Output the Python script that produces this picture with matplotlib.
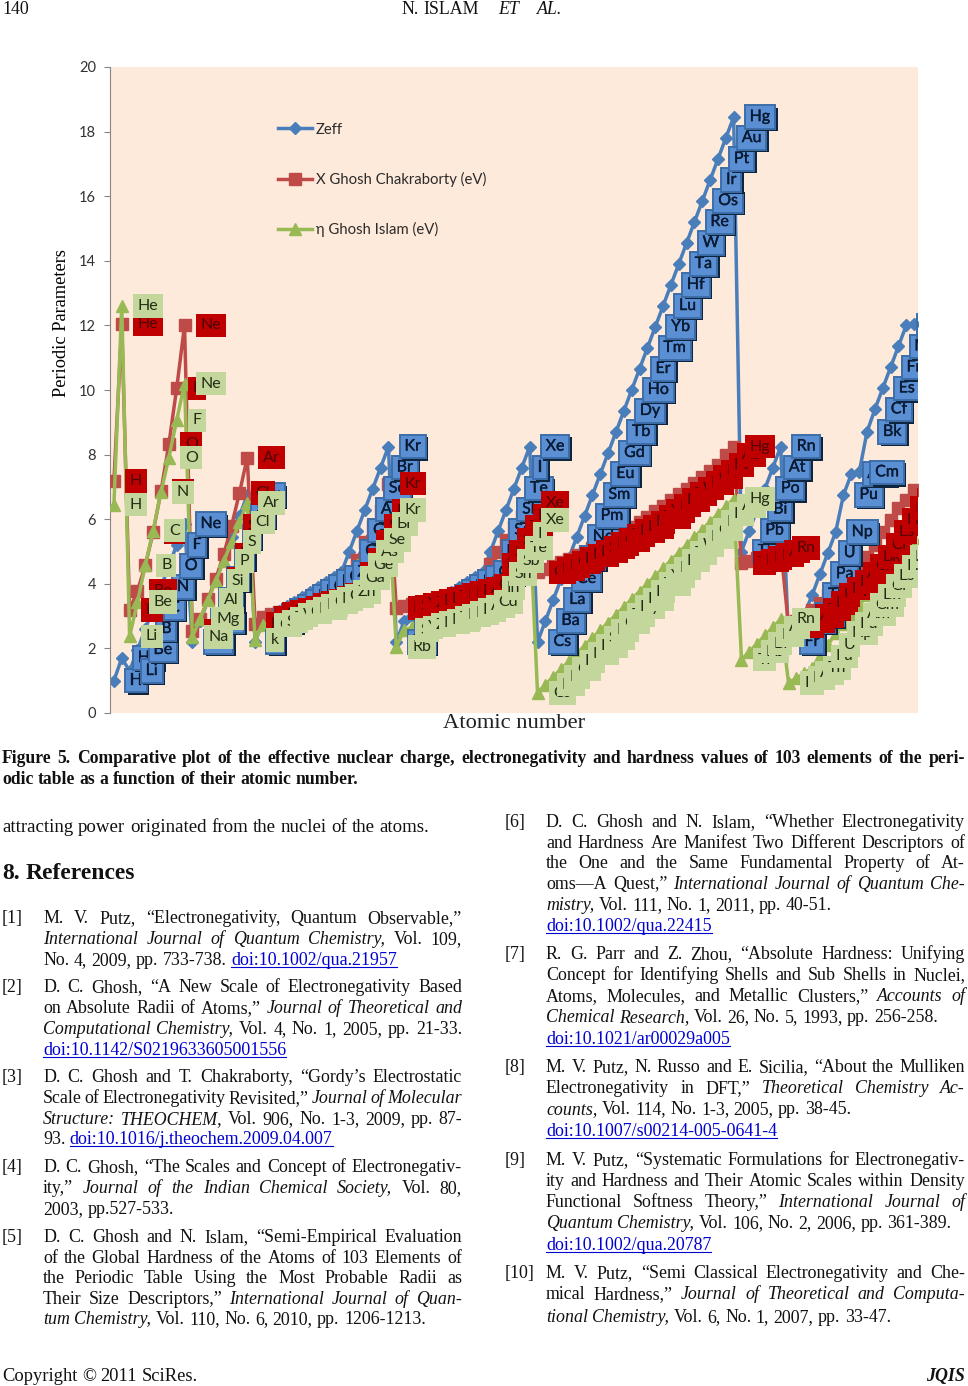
import numpy as np
import matplotlib
matplotlib.use('Agg')
import matplotlib.pyplot as plt
import matplotlib.patheffects as pe
from matplotlib.lines import Line2D

# data, one value per element (Z = 1..103)
symbols = ['H', 'He', 'Li', 'Be', 'B', 'C', 'N', 'O', 'F', 'Ne',
           'Na', 'Mg', 'Al', 'Si', 'P', 'S', 'Cl', 'Ar',
           'k', 'Ca', 'Sc', 'Ti', 'V', 'Cr', 'Mn', 'Fe', 'Co', 'Ni', 'Cu', 'Zn',
           'Ga', 'Ge', 'As', 'Se', 'Br', 'Kr',
           'Rb', 'Sr', 'Y', 'Zr', 'Nb', 'Mo', 'Tc', 'Ru', 'Rh', 'Pd', 'Ag', 'Cd',
           'In', 'Sn', 'Sb', 'Te', 'I', 'Xe',
           'Cs', 'Ba', 'La', 'Ce', 'Pr', 'Nd', 'Pm', 'Sm', 'Eu', 'Gd', 'Tb', 'Dy',
           'Ho', 'Er', 'Tm', 'Yb', 'Lu', 'Hf', 'Ta', 'W', 'Re', 'Os', 'Ir', 'Pt', 'Au', 'Hg',
           'Tl', 'Pb', 'Bi', 'Po', 'At', 'Rn',
           'Fr', 'Ra', 'Ac', 'Th', 'Pa', 'U', 'Np', 'Pu', 'Am', 'Cm', 'Bk', 'Cf', 'Es', 'Fm',
           'Md', 'No', 'Lr']

zeff = [1.0, 1.7,
        1.3, 1.95, 2.6, 3.25, 3.9, 4.55, 5.2, 5.85,
        2.2, 2.85, 3.5, 4.15, 4.8, 5.45, 6.1, 6.75,
        2.2, 2.85, 3.0, 3.15, 3.3, 3.45, 3.6, 3.75, 3.9, 4.05, 4.2, 4.35,
        5.0, 5.65, 6.3, 6.95, 7.6, 8.25,
        2.2, 2.85, 3.0, 3.15, 3.3, 3.45, 3.6, 3.75, 3.9, 4.05, 4.2, 4.35,
        5.0, 5.65, 6.3, 6.95, 7.6, 8.25,
        2.2, 2.85, 3.5, 4.15, 4.8, 5.45, 6.1, 6.75, 7.4, 8.05, 8.7, 9.35, 10.0,
        10.65, 11.3, 11.95, 12.6, 13.25, 13.9, 14.55, 15.2, 15.85, 16.5, 17.15, 17.8, 18.45,
        5.0, 5.65, 6.3, 6.95, 7.6, 8.25,
        2.2, 2.85, 3.05, 3.65, 4.3, 4.95, 5.6, 6.75, 7.4, 7.45, 8.7, 9.4, 10.05, 10.7,
        11.35, 12.0, 12.05]

x_ghosh = [7.18, 12.03,
           3.19, 3.78, 4.57, 5.6, 6.87, 8.32, 10.05, 12.0,
           2.55, 2.92, 3.52, 4.16, 4.91, 5.8, 6.81, 7.91,
           2.77, 2.96, 3.08, 3.14, 3.2, 3.27, 3.34, 3.41, 3.48, 3.56, 3.65, 3.75,
           4.3, 4.75, 5.3, 5.8, 6.25, 7.1,
           3.25, 3.3, 3.36, 3.42, 3.48, 3.54, 3.6, 3.66, 3.72, 3.78, 3.85, 3.95,
           4.6, 5.0, 5.35, 5.75, 6.1, 6.5,
           4.35, 4.45, 4.55, 4.66, 4.77, 4.88, 5.0, 5.12, 5.24, 5.36, 5.5, 5.63, 5.76, 5.9,
           6.07, 6.25, 6.42, 6.6, 6.78, 6.95, 7.12, 7.3, 7.48, 7.68, 7.98, 8.25,
           4.65, 4.72, 4.8, 4.9, 5.0, 5.1,
           2.7, 2.85, 3.0, 3.2, 3.4, 3.65, 3.85, 4.05, 4.3, 4.55, 4.83, 5.2, 5.6, 5.97,
           6.35, 6.6, 6.9]

eta_ghosh = [6.45, 12.6,
             2.37, 3.44, 4.57, 5.65, 6.83, 7.91, 9.06, 10.2,
             2.36, 2.92, 3.5, 4.1, 4.7, 5.3, 5.9, 6.5,
             2.26, 2.72, 2.83, 2.93, 3.03, 3.13, 3.23, 3.33, 3.43, 3.53, 3.63, 3.74,
             4.18, 4.58, 5.0, 5.36, 5.85, 6.28,
             2.04, 2.57, 2.65, 2.73, 2.8, 2.87, 2.95, 3.02, 3.1, 3.18, 3.3, 3.44,
             3.87, 4.3, 4.7, 5.1, 5.54, 5.97,
             0.62, 0.88, 1.12, 1.36, 1.6, 1.84, 2.08, 2.32, 2.56, 2.8, 3.04, 3.28, 3.52,
             3.76, 4.0, 4.24, 4.48, 4.72, 4.96, 5.2, 5.44, 5.68, 5.92, 6.16, 6.4, 6.62,
             1.65, 1.9, 2.15, 2.4, 2.65, 2.9,
             0.93, 1.08, 1.23, 1.39, 1.75, 2.1, 2.47, 2.76, 3.05, 3.34, 3.64, 3.94, 4.24, 4.54,
             4.84, 5.13, 5.42]

series_names = ['Zeff', 'X Ghosh Chakraborty (eV)', 'η Ghosh Islam (eV)']
y_ticks = [0, 2, 4, 6, 8, 10, 12, 14, 16, 18, 20]

W, H = 968, 1386
z = np.arange(1, 104)

fig = plt.figure(figsize=(W / 100, H / 100), dpi=100, facecolor='white')
ax = fig.add_axes([110 / W, 1 - 713 / H, 808 / W, 646 / H], facecolor='#fdeadb')
ax.set_xlim(0.5, 103.5)
ax.set_ylim(0, 20)
ax.set_xticks([])
ax.set_yticks(y_ticks)
ax.tick_params(axis='y', length=4, color='#868686', labelcolor='#333333', pad=6)
for lab in ax.get_yticklabels():
    lab.set_fontfamily('Lato')
    lab.set_fontsize(10.5)
for side in ['top', 'right', 'bottom']:
    ax.spines[side].set_visible(False)
ax.spines['left'].set_color('#868686')

ax.plot(z, zeff, color='#4a7ebb', lw=2.5, marker='D', ms=6.5, zorder=2, label=series_names[0])
ax.plot(z, x_ghosh, color='#be4b48', lw=2.5, marker='s', ms=8.5, zorder=3, label=series_names[1])
ax.plot(z, eta_ghosh, color='#98b954', lw=2.5, marker='^', ms=9, zorder=4, label=series_names[2])


def add_labels(values, face, edge, text_color, order, shadow=False):
    for i, sym in enumerate(symbols):
        t = ax.annotate(sym, (z[i], values[i]), xytext=(11.5, 0), textcoords='offset points',
                        ha='left', va='center', fontsize=11.5, family='Lato', color=text_color,
                        zorder=order + i * 0.001, clip_on=True,
                        bbox=dict(boxstyle='square,pad=0.3', fc=face, ec=edge, lw=1.4 if shadow else 0))
        if shadow:
            t.set_path_effects([pe.withStroke(linewidth=0.25, foreground=text_color)])
            t.get_bbox_patch().set_path_effects([
                pe.withSimplePatchShadow(offset=(1.8, -1.8), shadow_rgbFace='#0f243e', alpha=1)])


add_labels(zeff, '#5b8fd3', '#3d6ea8', '#0a1a33', 5, shadow=True)
add_labels(x_ghosh, '#c00000', '#c00000', '#4d0505', 6)
add_labels(eta_ghosh, '#c3d69b', '#c3d69b', '#222b14', 7)

leg = ax.legend(loc='upper left', bbox_to_anchor=(0.208, 0.914), frameon=False,
                prop={'family': ['Lato', 'DejaVu Sans'], 'size': 10.7}, labelspacing=2.38,
                handlelength=2.3, handletextpad=0.25, borderpad=0, borderaxespad=0)
leg.set_zorder(20)
for txt in leg.get_texts():
    txt.set_color('#2b2b2b')

fig.text(61 / W, 1 - 323 / H, 'Periodic Parameters', rotation=90, ha='center', va='center',
         family='Liberation Serif', fontsize=13.2)
fig.text(514 / W, 1 - 724 / H, 'Atomic number', ha='center', va='center',
         family='Liberation Serif', fontsize=16.2, color='#222222')

renderer = fig.canvas.get_renderer()


# one printed line: '*' toggles italic, '~' toggles a blue underlined link
def put_line(x0, y, s, x1=None, size=12.9, weight='normal'):
    words = []
    italic = link = False
    for raw in s.split(' '):
        it0, li0 = italic, link
        if raw.startswith('*'):
            it0 = not it0
        if raw.startswith('~'):
            li0 = not li0
        italic ^= raw.count('*') % 2 == 1
        link ^= raw.count('~') % 2 == 1
        word = raw.replace('*', '').replace('~', '')
        t = fig.text(x0 / W, 1 - y / H, word, family='Liberation Serif', fontsize=size,
                     fontweight=weight, fontstyle='italic' if it0 else 'normal',
                     color='#0000d0' if li0 else '#111111', va='baseline', ha='left')
        words.append((t, t.get_window_extent(renderer).width, li0))
    gap = size * 100 / 72 * 0.25
    if x1 is not None and len(words) > 1:
        gap = (x1 - x0 - sum(w[1] for w in words)) / (len(words) - 1)
    x = x0
    for t, width, li in words:
        t.set_x(x / W)
        if li:
            fig.add_artist(Line2D([x / W, (x + width) / W], [1 - (y + 2) / H] * 2,
                                  color='#0000d0', lw=0.8))
        x += width + gap


put_line(2, 14, '140', size=12.9)
put_line(402, 14, 'N. ISLAM', size=12.9)
put_line(498, 14, '*ET', size=12.9)
put_line(537, 14, '*AL.', size=12.9)

put_line(2, 763, 'Figure 5. Comparative plot of the effective nuclear charge, electronegativity and hardness values of 103 elements of the peri-',
         x1=965, size=12.7, weight='bold')
put_line(2, 784, 'odic table as a function of their atomic number.', size=12.7, weight='bold')
put_line(2, 832, 'attracting power originated from the nuclei of the atoms.', size=13.6)
put_line(2, 879, '8. References', size=17, weight='bold')

LX0, LX1, LN = 43, 462, 2
RX0, RX1, RN = 546, 965, 505

left_refs = [
    (923, '[1]', 'M. V. Putz, “Electronegativity, Quantum Observable,”', True),
    (944, '', '*International Journal of Quantum Chemistry*, Vol. 109,', True),
    (965, '', 'No. 4, 2009, pp. 733-738. ~doi:10.1002/qua.21957~', False),
    (992, '[2]', 'D. C. Ghosh, “A New Scale of Electronegativity Based', True),
    (1013, '', 'on Absolute Radii of Atoms,” *Journal of Theoretical and*', True),
    (1034, '', '*Computational Chemistry*, Vol. 4, No. 1, 2005, pp. 21-33.', True),
    (1055, '', '~doi:10.1142/S0219633605001556~', False),
    (1082, '[3]', 'D. C. Ghosh and T. Chakraborty, “Gordy’s Electrostatic', True),
    (1103, '', 'Scale of Electronegativity Revisited,” *Journal of Molecular*', True),
    (1124, '', '*Structure*: *THEOCHEM*, Vol. 906, No. 1-3, 2009, pp. 87-', True),
    (1144, '', '93. ~doi:10.1016/j.theochem.2009.04.007~', False),
    (1172, '[4]', 'D. C. Ghosh, “The Scales and Concept of Electronegativ-', True),
    (1193, '', 'ity,” *Journal of the Indian Chemical Society*, Vol. 80,', True),
    (1214, '', '2003, pp.527-533.', False),
    (1242, '[5]', 'D. C. Ghosh and N. Islam, “Semi-Empirical Evaluation', True),
    (1263, '', 'of the Global Hardness of the Atoms of 103 Elements of', True),
    (1283, '', 'the Periodic Table Using the Most Probable Radii as', True),
    (1304, '', 'Their Size Descriptors,” *International Journal of Quan-*', True),
    (1324, '', '*tum Chemistry*, Vol. 110, No. 6, 2010, pp. 1206-1213.', False),
]
right_refs = [
    (827, '[6]', 'D. C. Ghosh and N. Islam, “Whether Electronegativity', True),
    (848, '', 'and Hardness Are Manifest Two Different Descriptors of', True),
    (868, '', 'the One and the Same Fundamental Property of At-', True),
    (889, '', 'oms—A Quest,” *International Journal of Quantum Che-*', True),
    (910, '', '*mistry*, Vol. 111, No. 1, 2011, pp. 40-51.', False),
    (931, '', '~doi:10.1002/qua.22415~', False),
    (959, '[7]', 'R. G. Parr and Z. Zhou, “Absolute Hardness: Unifying', True),
    (980, '', 'Concept for Identifying Shells and Sub Shells in Nuclei,', True),
    (1001, '', 'Atoms, Molecules, and Metallic Clusters,” *Accounts of*', True),
    (1022, '', '*Chemical Research*, Vol. 26, No. 5, 1993, pp. 256-258.', False),
    (1044, '', '~doi:10.1021/ar00029a005~', False),
    (1072, '[8]', 'M. V. Putz, N. Russo and E. Sicilia, “About the Mulliken', True),
    (1093, '', 'Electronegativity in DFT,” *Theoretical Chemistry Ac-*', True),
    (1114, '', '*counts*, Vol. 114, No. 1-3, 2005, pp. 38-45.', False),
    (1136, '', '~doi:10.1007/s00214-005-0641-4~', False),
    (1165, '[9]', 'M. V. Putz, “Systematic Formulations for Electronegativ-', True),
    (1186, '', 'ity and Hardness and Their Atomic Scales within Density', True),
    (1207, '', 'Functional Softness Theory,” *International Journal of*', True),
    (1228, '', '*Quantum Chemistry*, Vol. 106, No. 2, 2006, pp. 361-389.', False),
    (1250, '', '~doi:10.1002/qua.20787~', False),
    (1278, '[10]', 'M. V. Putz, “Semi Classical Electronegativity and Che-', True),
    (1299, '', 'mical Hardness,” *Journal of Theoretical and Computa-*', True),
    (1322, '', '*tional Chemistry*, Vol. 6, No. 1, 2007, pp. 33-47.', False),
]

for y, num, line, full in left_refs:
    if num:
        put_line(LN, y, num)
    put_line(LX0, y, line, x1=LX1 if full else None)
for y, num, line, full in right_refs:
    if num:
        put_line(RN, y, num)
    put_line(RX0, y, line, x1=RX1 if full else None)

put_line(2, 1381, 'Copyright © 2011 SciRes.', size=13.3)
fig.text(965 / W, 1 - 1381 / H, 'JQIS', family='Liberation Serif', fontsize=12.9,
         fontweight='bold', fontstyle='italic', ha='right', va='baseline', color='#111111')

fig.savefig('out.png', dpi=100, facecolor='white')
